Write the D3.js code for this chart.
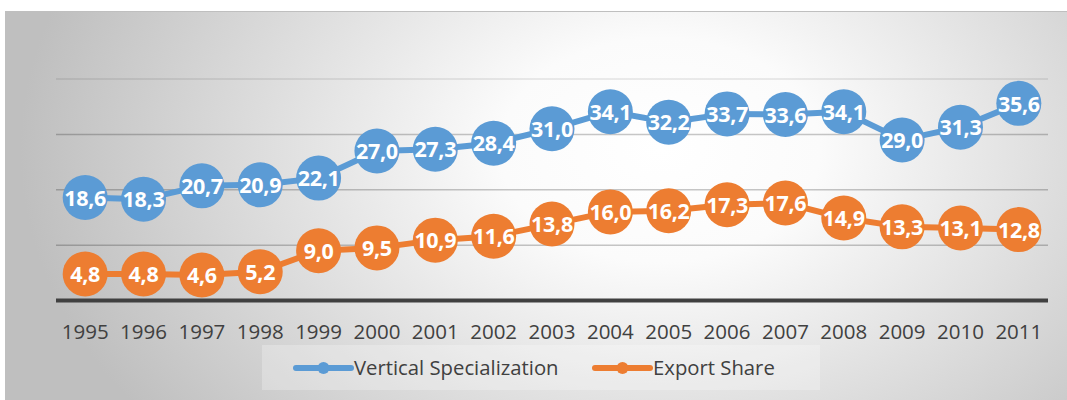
<!DOCTYPE html>
<html>
<head>
<meta charset="utf-8">
<script src="https://cdn.jsdelivr.net/npm/d3@7"></script>
<style>
  html, body { margin: 0; padding: 0; background: #fff; }
  svg { display: block; }
</style>
</head>
<body>
<svg id="chart" width="1067" height="400"></svg>
<script>
// Years on the category axis
const years = ["1995","1996","1997","1998","1999","2000","2001","2002","2003","2004","2005","2006","2007","2008","2009","2010","2011"];

// Series values (percent)
const verticalSpecialization = [18.6, 18.3, 20.7, 20.9, 22.1, 27.0, 27.3, 28.4, 31.0, 34.1, 32.2, 33.7, 33.6, 34.1, 29.0, 31.3, 35.6];
const exportShare = [4.8, 4.8, 4.6, 5.2, 9.0, 9.5, 10.9, 11.6, 13.8, 16.0, 16.2, 17.3, 17.6, 14.9, 13.3, 13.1, 12.8];

// Value axis gridline values
const gridValues = [10, 20, 30, 40];

const seriesNames = ["Vertical Specialization", "Export Share"];
const seriesColors = ["#5b9bd5", "#ed7d31"];

const svg = d3.select("#chart");
const W = 1067, H = 400;

// Chart background with a soft radial sheen
const defs = svg.append("defs");
const grad = defs.append("radialGradient")
  .attr("id", "bg")
  .attr("gradientUnits", "userSpaceOnUse")
  .attr("cx", 660).attr("cy", 150).attr("r", 640)
  .attr("gradientTransform", "translate(660,150) scale(1,0.7) translate(-660,-150)");
grad.append("stop").attr("offset", "0%").attr("stop-color", "#ffffff");
grad.append("stop").attr("offset", "25%").attr("stop-color", "#fbfbfb");
grad.append("stop").attr("offset", "100%").attr("stop-color", "#bfbfbf");

svg.append("rect")
  .attr("x", 5).attr("y", 11).attr("width", W - 5).attr("height", H - 11)
  .attr("fill", "url(#bg)");
svg.append("path")
  .attr("d", `M5.5,${H} V11.5 H${W}`)
  .attr("fill", "none").attr("stroke", "#bfbfbf").attr("stroke-width", 1);

const plot = { left: 56, right: 1048, top: 79, bottom: 300.5 };

const x = d3.scaleBand().domain(years).range([plot.left, plot.right]);
const y = d3.scaleLinear().domain([0, 40]).range([plot.bottom, plot.top]);
const cx = d => x(d) + x.bandwidth() / 2;

// Horizontal gridlines
svg.append("g").selectAll("line").data(gridValues).join("line")
  .attr("x1", plot.left).attr("x2", plot.right)
  .attr("y1", d => y(d)).attr("y2", d => y(d))
  .attr("stroke", "#000")
  .attr("stroke-opacity", d => d === 40 ? 0.1 : 0.22)
  .attr("stroke-width", 1.5);

// Category axis
const xAxis = svg.append("g")
  .attr("transform", `translate(0,${plot.bottom})`)
  .call(d3.axisBottom(x).tickSize(0).tickPadding(0));
xAxis.select(".domain").remove();
xAxis.append("line")
  .attr("x1", plot.left).attr("x2", plot.right)
  .attr("stroke", "#404040").attr("stroke-width", 4);
xAxis.selectAll(".tick text")
  .attr("y", 38.5).attr("dy", null)
  .attr("fill", "#404040")
  .style("font-family", "'Open Sans', sans-serif")
  .style("font-size", "20.5px");

// Comma as decimal mark
const fmt = d3.formatLocale({ decimal: ",", thousands: ".", grouping: [3], currency: ["", ""] }).format(".1f");

const line = d3.line().x((d, i) => cx(years[i])).y(d => y(d));

[verticalSpecialization, exportShare].forEach((vals, si) => {
  const g = svg.append("g");
  g.append("path").datum(vals)
    .attr("d", line)
    .attr("fill", "none")
    .attr("stroke", seriesColors[si])
    .attr("stroke-width", 6)
    .attr("stroke-linejoin", "round");
  g.selectAll("circle").data(vals).join("circle")
    .attr("cx", (d, i) => cx(years[i]))
    .attr("cy", d => y(d))
    .attr("r", 22.5)
    .attr("fill", seriesColors[si]);
  g.selectAll("text").data(vals).join("text")
    .attr("x", (d, i) => cx(years[i]))
    .attr("y", d => y(d))
    .attr("dy", "0.38em")
    .attr("text-anchor", "middle")
    .attr("fill", "#ffffff")
    .style("font-family", "'Open Sans', sans-serif")
    .style("font-weight", "700")
    .style("font-size", "21.5px")
    .style("letter-spacing", "-0.3px")
    .text(d => fmt(d));
});

// Legend
const legend = svg.append("g");
legend.append("rect")
  .attr("x", 262).attr("y", 345).attr("width", 558).attr("height", 45)
  .attr("fill", "#ffffff").attr("opacity", 0.25);
const legendItems = [
  { name: seriesNames[0], color: seriesColors[0], x0: 296 },
  { name: seriesNames[1], color: seriesColors[1], x0: 595 }
];
legendItems.forEach(it => {
  legend.append("line")
    .attr("x1", it.x0).attr("x2", it.x0 + 55)
    .attr("y1", 368).attr("y2", 368)
    .attr("stroke", it.color).attr("stroke-width", 6).attr("stroke-linecap", "round");
  legend.append("circle")
    .attr("cx", it.x0 + 27.5).attr("cy", 368).attr("r", 6)
    .attr("fill", it.color);
  legend.append("text")
    .attr("x", it.x0 + 58).attr("y", 375)
    .attr("fill", "#404040")
    .style("font-family", "'Open Sans', sans-serif")
    .style("font-size", "20.3px")
    .text(it.name);
});
</script>
</body>
</html>
